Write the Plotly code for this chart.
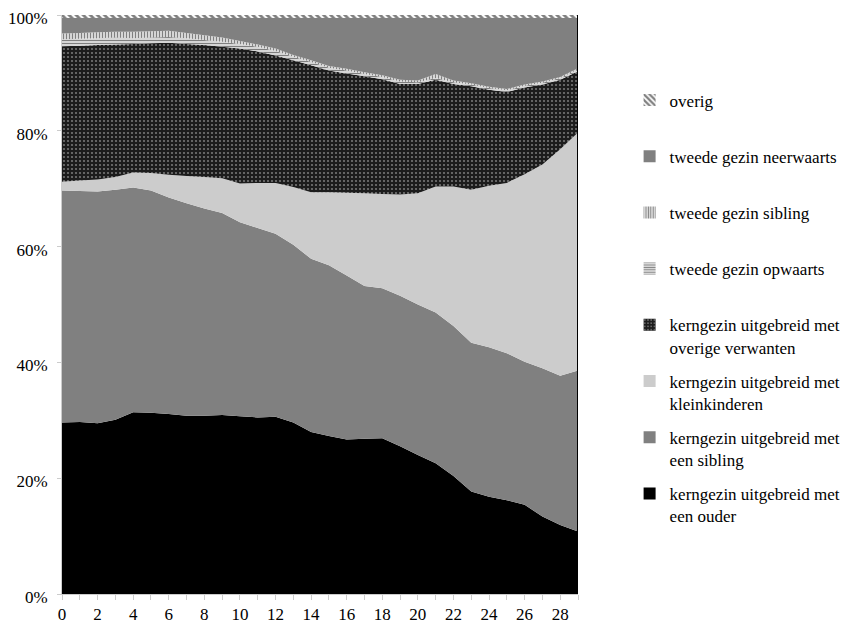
import plotly.graph_objects as go

years = list(range(30))

# shares (%) per layer, bottom to top
een_ouder = [29.6, 29.7, 29.5, 30.1, 31.4, 31.3, 31.1, 30.8, 30.8, 30.9, 30.7, 30.5, 30.6, 29.6, 28.0,
             27.3, 26.7, 26.8, 26.9, 25.5, 24.0, 22.6, 20.4, 17.7, 16.8, 16.2, 15.4, 13.4, 11.9, 10.8]
een_sibling = [40.1, 39.9, 40.0, 39.7, 38.8, 38.4, 37.4, 36.7, 35.8, 34.9, 33.5, 32.7, 31.6, 30.7, 29.9,
               29.5, 28.3, 26.4, 25.9, 26.0, 26.0, 26.0, 25.9, 25.7, 25.8, 25.4, 24.7, 25.6, 25.8, 27.8]
kleinkinderen = [1.5, 1.8, 2.1, 2.2, 2.6, 3.0, 3.9, 4.7, 5.4, 6.0, 6.7, 7.8, 8.8, 10.0, 11.5,
                 12.6, 14.3, 16.0, 16.3, 17.5, 19.2, 21.8, 24.1, 26.4, 27.9, 29.4, 32.4, 35.2, 39.1, 41.1]
overige_verwanten = [23.4, 23.3, 23.2, 22.9, 22.2, 22.4, 22.8, 22.8, 22.8, 22.7, 23.3, 22.7, 22.0, 21.9, 21.9,
                     21.0, 20.6, 20.2, 19.8, 19.1, 18.9, 18.4, 17.7, 17.9, 16.6, 15.7, 15.0, 13.8, 12.0, 10.6]
tg_opwaarts = [1.2, 1.2, 1.2, 1.2, 1.0, 1.0, 1.0, 1.0, 0.9, 0.9, 0.8, 0.8, 0.8, 0.6, 0.6,
               0.5, 0.5, 0.4, 0.4, 0.4, 0.3, 0.3, 0.3, 0.3, 0.3, 0.3, 0.3, 0.3, 0.3, 0.3]
tg_sibling = [1.0, 1.0, 1.0, 1.0, 1.1, 1.1, 1.1, 0.9, 0.8, 0.7, 0.5, 0.4, 0.4, 0.3, 0.3,
              0.3, 0.3, 0.3, 0.3, 0.3, 0.3, 0.7, 0.3, 0.2, 0.2, 0.2, 0.2, 0.2, 0.2, 0.2]
tg_neerwaarts = [2.7, 2.6, 2.5, 2.4, 2.4, 2.3, 2.2, 2.6, 3.0, 3.4, 4.0, 4.6, 5.3, 6.4, 7.3,
                 8.3, 8.8, 9.4, 9.9, 10.7, 10.8, 9.7, 10.8, 11.3, 11.9, 12.3, 11.5, 11.0, 10.2, 8.7]
overig = [0.5] * 30

x_ticks = list(range(0, 29, 2))
y_ticks = [0, 20, 40, 60, 80, 100]
y_ticktext = ["0%", "20%", "40%", "60%", "80%", "100%"]

series = [
    ("kerngezin uitgebreid met<br>een ouder", een_ouder,
     dict(fillcolor="#000000")),
    ("kerngezin uitgebreid met<br>een sibling", een_sibling,
     dict(fillcolor="#808080")),
    ("kerngezin uitgebreid met<br>kleinkinderen", kleinkinderen,
     dict(fillcolor="#cccccc")),
    ("kerngezin uitgebreid met<br>overige verwanten", overige_verwanten,
     dict(fillcolor="#1c1c1c", pattern=dict(shape=".", bgcolor="#1c1c1c", fgcolor="#cfcfcf", size=4, solidity=0.22))),
    ("tweede gezin opwaarts<br> ", tg_opwaarts,
     dict(fillcolor="#ffffff", pattern=dict(shape="-", bgcolor="#ffffff", fgcolor="#000000", size=3, solidity=0.55))),
    ("tweede gezin sibling<br> ", tg_sibling,
     dict(fillcolor="#ffffff", pattern=dict(shape="|", bgcolor="#ffffff", fgcolor="#000000", size=3, solidity=0.55))),
    ("tweede gezin neerwaarts<br> ", tg_neerwaarts,
     dict(fillcolor="#808080")),
    ("overig<br> ", overig,
     dict(fillcolor="#ffffff", pattern=dict(shape="\\", bgcolor="#ffffff", fgcolor="#000000", size=5, solidity=0.55))),
]

fig = go.Figure()
for i, (name, vals, st) in enumerate(series):
    kw = {}
    if "pattern" in st:
        kw["fillpattern"] = st["pattern"]
    fig.add_trace(go.Scatter(
        x=years, y=vals, mode="none", stackgroup="one",
        fillcolor=st["fillcolor"], name=name, showlegend=False,
        hoverinfo="skip", **kw))

# legend proxies (square swatches), top layer first
for i in reversed(range(len(series))):
    name, vals, st = series[i]
    mk = dict(color=st["fillcolor"], line=dict(width=0))
    if "pattern" in st:
        p = st["pattern"]
        mk["pattern"] = dict(shape=p["shape"], bgcolor=p["bgcolor"], fgcolor=p["fgcolor"],
                             size=p["size"], solidity=p["solidity"])
    fig.add_trace(go.Bar(x=[None], y=[None], name=name, marker=mk,
                         legendgroup=f"g{i}", showlegend=True))

fig.add_shape(type="line", x0=29, x1=29, y0=0, y1=100, xref="x", yref="y",
              line=dict(color="#000000", width=2))

font = "Liberation Serif"
fig.update_layout(
    width=861, height=631,
    margin=dict(l=54, r=291, t=7, b=45, autoexpand=False),
    paper_bgcolor="white", plot_bgcolor="white",
    font=dict(family=font, size=17, color="#000000"),
    showlegend=True,
    legend=dict(x=1.1, y=0.8835, xanchor="left", yanchor="top",
                traceorder="grouped", tracegroupgap=9,
                valign="top", font=dict(family=font, size=17, color="#000000"),
                bgcolor="rgba(0,0,0,0)"),
    xaxis=dict(range=[0, 29], tickvals=x_ticks, ticktext=[str(v) for v in x_ticks],
               showgrid=False, zeroline=False, showline=True, linecolor="#cccccc", linewidth=1,
               ticks="outside", ticklen=5, tickcolor="#cccccc", automargin=False,
               minor=dict(dtick=1, tick0=0, ticks="outside", ticklen=5, tickcolor="#cccccc"),
               tickfont=dict(family=font, size=17)),
    yaxis=dict(range=[0, 100], tickvals=y_ticks, ticktext=y_ticktext, automargin=False,
               ticklabeloverflow="allow", ticklabelstandoff=6, ticklabelshift=3,
               showgrid=False, zeroline=False, showline=True, linecolor="#cccccc", linewidth=1,
               ticks="outside", ticklen=4, tickcolor="#cccccc", tickfont=dict(family=font, size=17)),
)

fig.write_html("out.html")
